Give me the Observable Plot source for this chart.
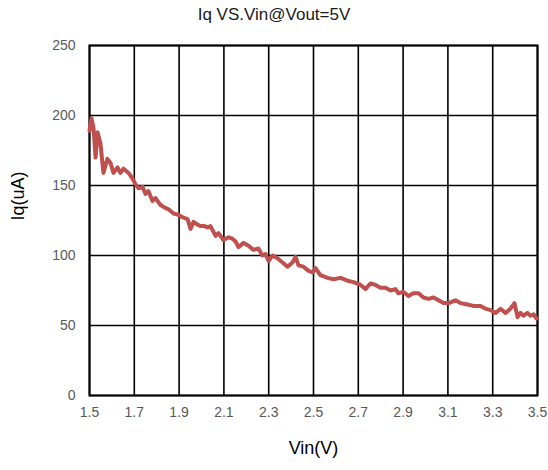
<!DOCTYPE html>
<html>
<head>
<meta charset="utf-8">
<script src="https://cdn.jsdelivr.net/npm/d3@7"></script>
<script src="https://cdn.jsdelivr.net/npm/@observablehq/plot@0.6"></script>
<style>
  html, body { margin: 0; padding: 0; background: #fff; }
  body { width: 548px; height: 470px; overflow: hidden; font-family: "Liberation Sans", Arial, sans-serif; }
  #title { height: 30px; line-height: 30px; text-align: center; font-size: 17px; color: #1a1a1a; }
  #chart svg { display: block; }
</style>
</head>
<body>
<div id="title">Iq VS.Vin@Vout=5V</div>
<div id="chart"></div>
<script>
const titleText = "Iq VS.Vin@Vout=5V";
const xLabel = "Vin(V)";
const yLabel = "Iq(uA)";
const xTicks = [1.5, 1.7, 1.9, 2.1, 2.3, 2.5, 2.7, 2.9, 3.1, 3.3, 3.5];
const yTicks = [0, 50, 100, 150, 200, 250];

const vin = [1.500,1.509,1.518,1.527,1.536,1.549,1.562,1.580,1.594,1.607,1.625,1.638,1.652,1.674,1.692,1.705,1.719,1.737,1.750,1.763,1.781,1.795,1.817,1.839,1.853,1.875,1.897,1.920,1.938,1.951,1.964,1.982,1.996,2.013,2.027,2.040,2.063,2.076,2.098,2.121,2.138,2.152,2.165,2.188,2.210,2.232,2.254,2.272,2.286,2.299,2.317,2.339,2.362,2.384,2.406,2.420,2.433,2.455,2.478,2.496,2.509,2.531,2.563,2.589,2.621,2.652,2.679,2.710,2.732,2.754,2.777,2.799,2.821,2.844,2.866,2.879,2.902,2.924,2.946,2.969,2.991,3.013,3.036,3.058,3.080,3.103,3.134,3.156,3.188,3.214,3.246,3.268,3.290,3.313,3.335,3.357,3.379,3.397,3.411,3.424,3.438,3.455,3.469,3.482,3.496];
const iq = [189,198,191,170,188,180,159,169,166,159,163,159,162,159,155,151,148,149,144,146,139,141,136,134,133,130,129,127,126,119,124,122,121,121,120,121,114,116,111,113,112,110,106,109,107,104,105,100,101,96,100,98,95,92,95,99,93,92,89,88,91,86,84,83,84,82,81,79,76,80,79,77,77,75,76,73,74,71,73,73,70,69,70,68,66,66,68,66,65,64,64,62,61,59,62,59,62,66,56,59,57,59,57,58,55];

const data = vin.map((v, i) => ({vin: v, iq: iq[i]}));

const chart = Plot.plot({
  width: 548,
  height: 440,
  marginTop: 15,
  marginBottom: 75,
  marginLeft: 89,
  marginRight: 11,
  style: {fontFamily: '"Liberation Sans", Arial, sans-serif', background: "#fff"},
  x: {domain: [1.5, 3.5], ticks: xTicks, tickFormat: d3.format(".1f")},
  y: {domain: [0, 250], ticks: yTicks},
  marks: [
    Plot.gridX(xTicks, {stroke: "#000", strokeOpacity: 1, strokeWidth: 1.6}),
    Plot.gridY(yTicks, {stroke: "#000", strokeOpacity: 1, strokeWidth: 1.6}),
    Plot.frame({stroke: "#000", strokeWidth: 2}),
    Plot.axisX(xTicks, {tickSize: 0, tickPadding: 12, fontSize: 14, color: "#595959", label: null, tickFormat: d3.format(".1f")}),
    Plot.axisY(yTicks, {tickSize: 0, tickPadding: 14, fontSize: 14, color: "#595959", label: null}),
    Plot.line(data, {x: "vin", y: "iq", stroke: "#C0504D", strokeWidth: 4, strokeLinejoin: "round", strokeLinecap: "round"}),
    Plot.text([xLabel], {frameAnchor: "bottom", dy: 58, fontSize: 18, fontWeight: "normal", fill: "#000"}),
    Plot.text([yLabel], {frameAnchor: "left", rotate: -90, dx: -71, fontSize: 18, fontWeight: "normal", fill: "#000"})
  ]
});
document.getElementById("chart").appendChild(chart);
</script>
</body>
</html>
